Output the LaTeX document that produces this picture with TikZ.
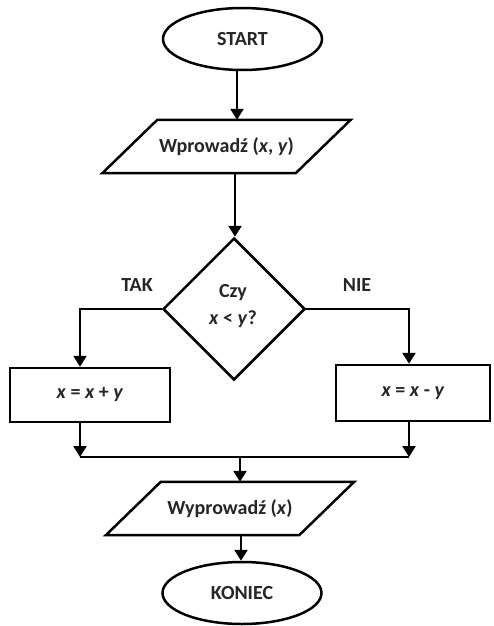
\documentclass[tikz,border=0pt]{standalone}
\usepackage{fontspec}
\setmainfont{Carlito}
\usetikzlibrary{shapes.geometric,arrows.meta,calc}
\begin{document}
\begin{tikzpicture}[x=1pt,y=-1pt,
  every node/.style={font=\bfseries\fontsize{20}{25}\selectfont, text=black!85},
  ln/.style={line width=2.5pt, draw=black, line join=miter},
  arr/.style={ln, -{Triangle[width=13pt,length=11pt]}},
  term/.style={ellipse, ln, minimum width=159pt, minimum height=62pt, inner sep=0pt},
  iobox/.style={rectangle, minimum width=193pt, minimum height=53pt, inner sep=0pt},
  proc/.style={rectangle, ln, inner sep=0pt},
  dec/.style={diamond, ln, minimum width=142pt, minimum height=142pt, aspect=1, inner sep=0pt, align=center},
  lbl/.style={inner sep=0pt}
]
\useasboundingbox (0,0) rectangle (493,626);
\fill[white] (0,0) rectangle (493,626);

% terminals
\node[term] (start) at (242.5,39) {START};
\node[term] (koniec) at (242,593) {KONIEC};

% input / output parallelograms
\node[iobox] (in) at (226.5,146.5) {Wprowadź (\textit{x}, \textit{y})};
\draw[ln] ($(in.south west)+(-27.5,0)$) -- ($(in.north west)+(27.5,0)$) -- ($(in.north east)+(27.5,0)$) -- ($(in.south east)+(-27.5,0)$) -- cycle;
\node[iobox] (out) at (230,508.5) {Wyprowadź (\textit{x})};
\draw[ln] ($(out.south west)+(-27.5,0)$) -- ($(out.north west)+(27.5,0)$) -- ($(out.north east)+(27.5,0)$) -- ($(out.south east)+(-27.5,0)$) -- cycle;

% decision
\node[dec] (dec) at (234,309) {};
\node[lbl] (q1) at (233,293) {Czy};
\node[lbl] (q2) at (233,319) {\textit{x} < \textit{y}?};

% process boxes
\node[proc, minimum width=160pt, minimum height=54pt] (tak) at (90,395) {\textit{x} = \textit{x} + \textit{y}};
\node[proc, minimum width=154pt, minimum height=56pt] (nie) at (413,393) {\textit{x} = \textit{x} - \textit{y}};

% labels
\node[lbl] (ltak) at (137,285) {TAK};
\node[lbl] (lnie) at (357,285) {NIE};

% coordinates
\coordinate (a1) at (237,0);
\coordinate (a2) at (235,0);
\coordinate (la) at (80,457);
\coordinate (ra) at (409,457);
\coordinate (m) at (240,457);
\coordinate (a4) at (241,0);

% connectors
\draw[arr] (start.south -| a1) -- (in.north -| a1);
\draw[arr] (in.south -| a2) -- (dec.north -| a2);
\draw[arr] (dec.west) -| (la |- tak.north);
\draw[arr] (dec.east) -| (ra |- nie.north);
\draw[arr] (la |- tak.south) -- (la);
\draw[arr] (ra |- nie.south) -- (ra);
\draw[ln] (la) -- (ra);
\draw[arr] (m) -- (out.north -| m);
\draw[arr] (out.south -| a4) -- (koniec.north -| a4);
\end{tikzpicture}
\end{document}
